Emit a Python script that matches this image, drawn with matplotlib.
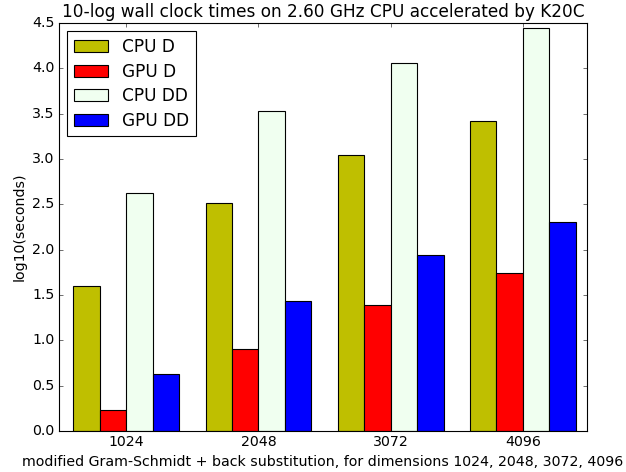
import matplotlib
matplotlib.use("Agg")
import matplotlib.pyplot as plt
import numpy as np

plt.style.use('classic')
plt.rcParams['font.size'] = 12.7

dims = ['1024', '2048', '3072', '4096']
cpu_d = [1.60, 2.515, 3.04, 3.415]
gpu_d = [0.228, 0.904, 1.386, 1.743]
cpu_dd = [2.625, 3.53, 4.06, 4.44]
gpu_dd = [0.625, 1.434, 1.945, 2.305]

series = [('CPU D', cpu_d, 'y'), ('GPU D', gpu_d, 'r'),
          ('CPU DD', cpu_dd, 'honeydew'), ('GPU DD', gpu_dd, 'b')]

fig = plt.figure(figsize=(626/80, 472/80), dpi=80)
ax = fig.add_axes([59/626, 1-431/472, (587-59)/626, (431-23)/472])
ind = np.arange(len(dims))
w = 0.2
for i, (lab, vals, col) in enumerate(series):
    ax.bar(ind + i*w, vals, w, color=col, edgecolor='black', label=lab, align='edge')
ax.set_xticks(ind + 2*w)
ax.set_xticklabels(dims)
ax.set_xlim(-0.108, 3.885)
ax.set_ylim(0, 4.5)
ax.set_yticks(np.arange(0, 4.51, 0.5))
ax.set_ylabel('log10(seconds)')
ax.set_xlabel('modified Gram-Schmidt + back substitution, for dimensions 1024, 2048, 3072, 4096')
ax.set_title('10-log wall clock times on 2.60 GHz CPU accelerated by K20C')
ax.legend(loc='upper left', labelspacing=0.38)
fig.savefig('out.png', dpi=80)
